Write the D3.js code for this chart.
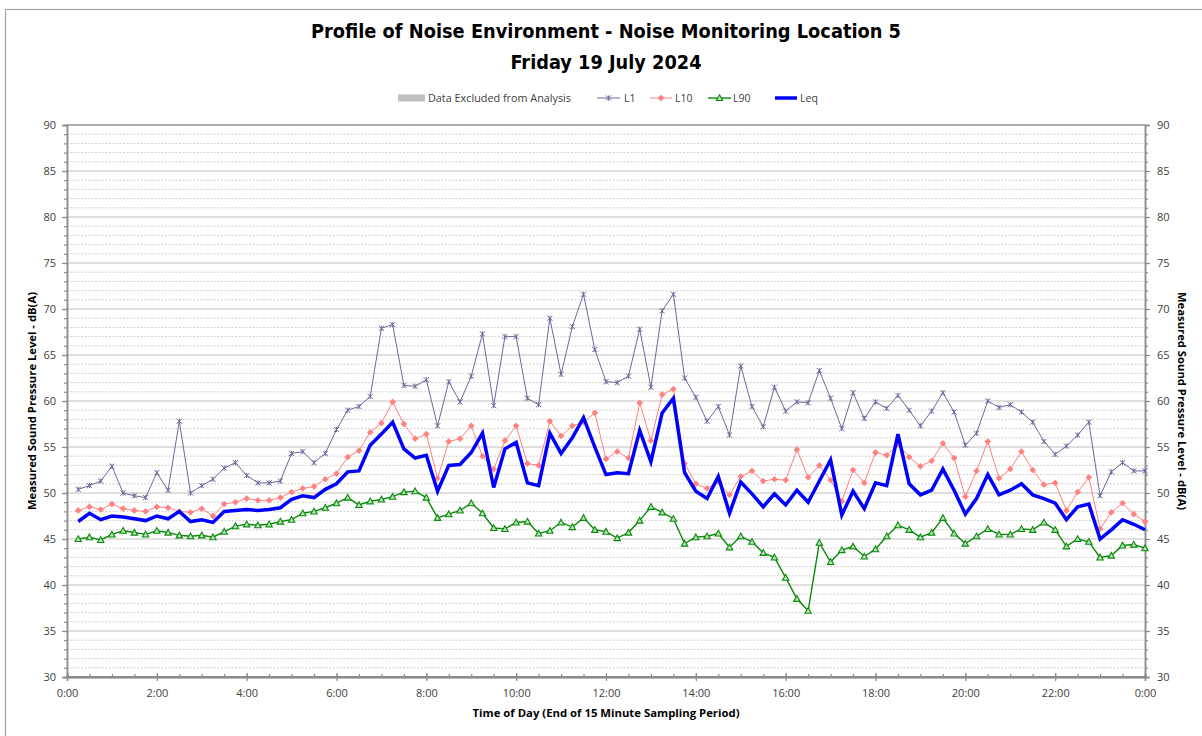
<!DOCTYPE html>
<html>
<head>
<meta charset="utf-8">
<script src="https://cdn.jsdelivr.net/npm/d3@7"></script>
<style>
  html, body { margin: 0; padding: 0; background: #ffffff; }
  svg { display: block; }
</style>
</head>
<body>
<svg id="chart" width="1202" height="736"></svg>
<script>
// ---------------- DATA ----------------
const titleLines = ["Profile of Noise Environment - Noise Monitoring Location 5", "Friday 19 July 2024"];
const xAxisTitle = "Time of Day (End of 15 Minute Sampling Period)";
const yAxisTitle = "Measured Sound Pressure Level - dB(A)";
const seriesNames = ["Data Excluded from Analysis", "L1", "L10", "L90", "Leq"];

// End of each 15-minute sampling period, minutes after midnight (0:15 ... 24:00)
const periodEndMinutes = d3.range(1, 97).map(i => i * 15);

const xTickMinutes = [0, 120, 240, 360, 480, 600, 720, 840, 960, 1080, 1200, 1320, 1440];
const xTickLabels = ["0:00", "2:00", "4:00", "6:00", "8:00", "10:00", "12:00", "14:00", "16:00", "18:00", "20:00", "22:00", "0:00"];
const yTickValues = [30, 35, 40, 45, 50, 55, 60, 65, 70, 75, 80, 85, 90];

// No periods were excluded
const excluded = [];

const L1 = [
  50.4, 50.8, 51.3, 52.9, 50.0, 49.7, 49.5, 52.2, 50.3, 57.8, 50.0, 50.8,
  51.5, 52.7, 53.3, 51.9, 51.1, 51.1, 51.3, 54.3, 54.5, 53.3, 54.3, 56.9,
  59.0, 59.4, 60.5, 67.9, 68.3, 61.7, 61.6, 62.3, 57.3, 62.1, 59.9, 62.7,
  67.3, 59.5, 67.0, 67.0, 60.3, 59.6, 69.0, 62.9, 68.1, 71.6, 65.6, 62.1,
  62.0, 62.7, 67.8, 61.5, 69.8, 71.6, 62.5, 60.4, 57.8, 59.4, 56.3, 63.8,
  59.4, 57.2, 61.5, 58.9, 59.9, 59.8, 63.3, 60.3, 57.0, 60.9, 58.1, 59.9,
  59.2, 60.6, 59.0, 57.3, 58.9, 60.9, 58.8, 55.2, 56.5, 60.0, 59.3, 59.6,
  58.8, 57.7, 55.6, 54.2, 55.1, 56.3, 57.7, 49.7, 52.3, 53.3, 52.4, 52.4
];
const L10 = [
  48.1, 48.5, 48.2, 48.8, 48.3, 48.1, 48.0, 48.5, 48.4, 48.0, 47.9, 48.3,
  47.5, 48.8, 49.0, 49.4, 49.2, 49.2, 49.5, 50.1, 50.5, 50.7, 51.5, 52.1,
  53.9, 54.6, 56.6, 57.6, 59.9, 57.5, 55.9, 56.4, 51.6, 55.6, 55.9, 57.3,
  54.0, 52.6, 55.7, 57.3, 53.2, 53.0, 57.8, 56.2, 57.3, 57.7, 58.7, 53.7,
  54.5, 53.8, 59.8, 55.7, 60.7, 61.3, 53.2, 51.0, 50.5, 51.2, 49.8, 51.8,
  52.4, 51.3, 51.5, 51.4, 54.7, 51.7, 53.0, 51.4, 49.1, 52.5, 51.1, 54.4,
  54.1, 55.3, 53.9, 52.9, 53.5, 55.4, 53.8, 49.6, 52.4, 55.6, 51.6, 52.6,
  54.5, 52.5, 50.9, 51.1, 48.1, 50.1, 51.7, 46.1, 47.9, 48.9, 47.7, 46.9
];
const L90 = [
  45.0, 45.2, 44.9, 45.5, 45.9, 45.7, 45.5, 45.9, 45.7, 45.4, 45.3, 45.4,
  45.2, 45.8, 46.4, 46.6, 46.5, 46.6, 46.9, 47.1, 47.8, 48.0, 48.4, 48.9,
  49.5, 48.7, 49.1, 49.3, 49.6, 50.1, 50.2, 49.5, 47.3, 47.7, 48.1, 48.9,
  47.8, 46.2, 46.1, 46.8, 46.9, 45.6, 45.9, 46.8, 46.3, 47.3, 46.0, 45.8,
  45.1, 45.7, 47.0, 48.5, 47.9, 47.2, 44.5, 45.2, 45.3, 45.6, 44.1, 45.3,
  44.7, 43.5, 43.0, 40.8, 38.5, 37.2, 44.6, 42.5, 43.8, 44.2, 43.1, 43.9,
  45.3, 46.5, 46.0, 45.2, 45.7, 47.3, 45.6, 44.5, 45.3, 46.1, 45.5, 45.5,
  46.1, 46.0, 46.8, 46.0, 44.2, 45.0, 44.7, 43.0, 43.2, 44.3, 44.4, 44.0
];
const Leq = [
  46.9, 47.8, 47.1, 47.5, 47.4, 47.2, 47.0, 47.5, 47.2, 48.0, 46.9, 47.1,
  46.8, 48.0, 48.1, 48.2, 48.1, 48.2, 48.4, 49.3, 49.7, 49.5, 50.4, 51.0,
  52.3, 52.4, 55.2, 56.4, 57.7, 54.8, 53.8, 54.1, 50.2, 53.0, 53.1, 54.4,
  56.5, 50.6, 54.8, 55.5, 51.1, 50.8, 56.5, 54.3, 56.0, 58.2, 55.0, 52.0,
  52.2, 52.1, 56.8, 53.4, 58.7, 60.3, 52.2, 50.2, 49.4, 51.8, 47.8, 51.2,
  49.9, 48.5, 49.9, 48.7, 50.3, 49.0, 51.3, 53.6, 47.6, 50.2, 48.3, 51.1,
  50.8, 56.4, 51.0, 49.8, 50.3, 52.6, 50.3, 47.7, 49.4, 52.0, 49.8, 50.3,
  51.0, 49.8, 49.4, 48.9, 47.1, 48.5, 48.8, 45.0, 46.0, 47.1, 46.6, 46.0
];

// ---------------- LAYOUT ----------------
const svg = d3.select("#chart");
const W = 1202, H = 736;
const plot = { left: 67, right: 1145, top: 125, bottom: 677 };

const x = d3.scaleLinear().domain([0, 1440]).range([plot.left, plot.right]);
const y = d3.scaleLinear().domain([30, 90]).range([plot.bottom, plot.top]);

const tickFont = "'Open Sans', 'Liberation Sans', sans-serif";
const titleFont = "'DejaVu Sans Condensed', 'DejaVu Sans', sans-serif";

// Outer chart border
svg.append("rect").attr("x", 5.5).attr("y", 9.5).attr("width", W + 10).attr("height", H + 10)
  .attr("fill", "#ffffff").attr("stroke", "#a6a6a6").attr("stroke-width", 1.2);

// Title
const titleG = svg.append("g");
const titleWidths = [590, 191];
const titleY = [38, 69];
titleLines.forEach((t, i) => {
  titleG.append("text")
    .attr("x", 606).attr("y", titleY[i])
    .attr("text-anchor", "middle")
    .attr("font-family", titleFont).attr("font-weight", "bold").attr("font-size", 20)
    .attr("fill", "#000000")
    .attr("textLength", titleWidths[i]).attr("lengthAdjust", "spacingAndGlyphs")
    .text(t);
});

// Gridlines
const grid = svg.append("g");
d3.range(31, 90).forEach(v => {
  const major = v % 5 === 0;
  grid.append("line")
    .attr("x1", plot.left).attr("x2", plot.right)
    .attr("y1", y(v)).attr("y2", y(v))
    .attr("stroke", major ? "#d4d4d4" : "#c4c4c4")
    .attr("stroke-width", major ? 1.6 : 0.8)
    .attr("stroke-dasharray", major ? null : "2,1.5");
});
// top line of plot area
grid.append("line").attr("x1", plot.left).attr("x2", plot.right)
  .attr("y1", y(90)).attr("y2", y(90)).attr("stroke", "#5a5a5a").attr("stroke-width", 1.2);

// Excluded data bars (none)
svg.append("g").selectAll("rect").data(excluded).join("rect")
  .attr("x", d => x(d.minute) - 5).attr("width", 10)
  .attr("y", d => y(d.value)).attr("height", d => y(30) - y(d.value))
  .attr("fill", "#bfbfbf");

// Axes
function styleAxis(g) {
  g.selectAll("path.domain").attr("stroke", "#8c8c8c").attr("stroke-width", 1.5);
  g.selectAll(".tick line").attr("stroke", "#8c8c8c").attr("stroke-width", 1.2);
  g.selectAll(".tick text").attr("font-family", tickFont).attr("font-size", 11).attr("fill", "#404040");
}
// minor y ticks
svg.append("g").attr("transform", `translate(${plot.left},0)`)
  .call(d3.axisLeft(y).tickValues(d3.range(30, 91, 1)).tickSize(3).tickFormat(""))
  .call(styleAxis);
svg.append("g").attr("transform", `translate(${plot.right},0)`)
  .call(d3.axisRight(y).tickValues(d3.range(30, 91, 1)).tickSize(3).tickFormat(""))
  .call(styleAxis);
// major y ticks with labels
svg.append("g").attr("transform", `translate(${plot.left},0)`)
  .call(d3.axisLeft(y).tickValues(yTickValues).tickSize(5).tickPadding(6).tickFormat(d3.format("d")))
  .call(styleAxis);
svg.append("g").attr("transform", `translate(${plot.right},0)`)
  .call(d3.axisRight(y).tickValues(yTickValues).tickSize(5).tickPadding(7).tickFormat(d3.format("d")))
  .call(styleAxis);
// x minor ticks (every 30 min)
svg.append("g").attr("transform", `translate(0,${plot.bottom})`)
  .call(d3.axisTop(x).tickValues(d3.range(0, 1441, 30)).tickSize(3).tickFormat(""))
  .call(styleAxis);
// x major ticks
const xAxisG = svg.append("g").attr("transform", `translate(0,${plot.bottom})`)
  .call(d3.axisBottom(x).tickValues(xTickMinutes).tickSize(4).tickPadding(8)
    .tickFormat((d, i) => xTickLabels[i]))
  .call(styleAxis);
svg.append("g").attr("transform", `translate(0,${plot.bottom})`)
  .call(d3.axisTop(x).tickValues(xTickMinutes).tickSize(4).tickFormat(""))
  .call(styleAxis);
svg.append("line").attr("x1", plot.left).attr("x2", plot.right)
  .attr("y1", plot.bottom).attr("y2", plot.bottom)
  .attr("stroke", "#8c8c8c").attr("stroke-width", 2);

// Axis titles
svg.append("text").attr("x", 606).attr("y", 717).attr("text-anchor", "middle")
  .attr("font-family", tickFont).attr("font-weight", "bold").attr("font-size", 11)
  .attr("fill", "#000").attr("textLength", 267).attr("lengthAdjust", "spacingAndGlyphs")
  .text(xAxisTitle);
svg.append("text").attr("transform", `translate(36,${(plot.top + plot.bottom) / 2}) rotate(-90)`)
  .attr("text-anchor", "middle")
  .attr("font-family", tickFont).attr("font-weight", "bold").attr("font-size", 11)
  .attr("fill", "#000").attr("textLength", 218).attr("lengthAdjust", "spacingAndGlyphs")
  .text(yAxisTitle);
svg.append("text").attr("transform", `translate(1178,${(plot.top + plot.bottom) / 2}) rotate(90)`)
  .attr("text-anchor", "middle")
  .attr("font-family", tickFont).attr("font-weight", "bold").attr("font-size", 11)
  .attr("fill", "#000").attr("textLength", 218).attr("lengthAdjust", "spacingAndGlyphs")
  .text(yAxisTitle);

// Series
const series = [
  { name: "L1", values: L1, color: "#6a6a9c", width: 1, marker: "star" },
  { name: "L10", values: L10, color: "#ff8080", width: 1, marker: "diamond" },
  { name: "L90", values: L90, color: "#0a8a0a", width: 1.4, marker: "triangle" },
  { name: "Leq", values: Leq, color: "#0000ff", width: 3.5, marker: null }
];

function drawMarker(g, type, cx, cy, color) {
  if (type === "star") {
    const s = 2.6;
    g.append("path")
      .attr("d", `M${cx - s},${cy - s}L${cx + s},${cy + s}M${cx - s},${cy + s}L${cx + s},${cy - s}M${cx},${cy - s}L${cx},${cy + s}`)
      .attr("stroke", color).attr("stroke-width", 1).attr("fill", "none");
  } else if (type === "diamond") {
    const s = 2.9;
    g.append("path")
      .attr("d", `M${cx},${cy - s}L${cx + s},${cy}L${cx},${cy + s}L${cx - s},${cy}Z`)
      .attr("fill", color).attr("stroke", color).attr("stroke-width", 0.8);
  } else if (type === "triangle") {
    const s = 3.2;
    g.append("path")
      .attr("d", `M${cx},${cy - s}L${cx + s},${cy + s * 0.8}L${cx - s},${cy + s * 0.8}Z`)
      .attr("fill", "#b8e0b8").attr("stroke", color).attr("stroke-width", 1.1);
  }
}

const line = d3.line().x((d, i) => x(periodEndMinutes[i])).y(d => y(d));
series.forEach(s => {
  const g = svg.append("g");
  g.append("path").datum(s.values).attr("d", line)
    .attr("fill", "none").attr("stroke", s.color).attr("stroke-width", s.width)
    .attr("stroke-linejoin", "miter");
  if (s.marker) {
    s.values.forEach((v, i) => drawMarker(g, s.marker, x(periodEndMinutes[i]), y(v), s.color));
  }
});

// Legend
const lg = svg.append("g");
const ly = 98;
const legendFont = 10.5;
lg.append("rect").attr("x", 398).attr("y", ly - 3.5).attr("width", 27).attr("height", 7).attr("fill", "#bfbfbf");
lg.append("text").attr("x", 428).attr("y", ly + 3.8).attr("font-family", tickFont).attr("font-size", legendFont)
  .attr("fill", "#404040").attr("textLength", 143).attr("lengthAdjust", "spacingAndGlyphs").text(seriesNames[0]);
const legendItems = [
  { s: series[0], x0: 597, x1: 620, tx: 624 },
  { s: series[1], x0: 650, x1: 672, tx: 675 },
  { s: series[2], x0: 708, x1: 731, tx: 733 },
  { s: series[3], x0: 775, x1: 797, tx: 800 }
];
legendItems.forEach(it => {
  lg.append("line").attr("x1", it.x0).attr("x2", it.x1).attr("y1", ly).attr("y2", ly)
    .attr("stroke", it.s.color).attr("stroke-width", it.s.width);
  if (it.s.marker) drawMarker(lg, it.s.marker, (it.x0 + it.x1) / 2, ly, it.s.color);
  lg.append("text").attr("x", it.tx).attr("y", ly + 3.8).attr("font-family", tickFont).attr("font-size", legendFont)
    .attr("fill", "#404040").text(it.s.name);
});
</script>
</body>
</html>
